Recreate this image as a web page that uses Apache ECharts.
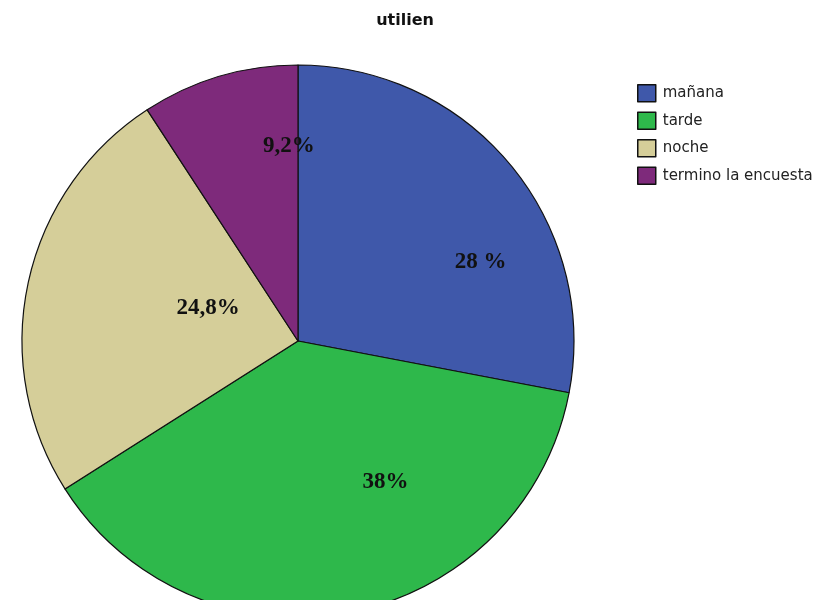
<!DOCTYPE html>
<html><head><meta charset="utf-8">
<script src="https://cdn.jsdelivr.net/npm/echarts@6/dist/echarts.min.js"></script>
<style>html,body{margin:0;padding:0;background:#fff}#c{width:829px;height:600px}</style>
</head><body><div id="c"></div>
<script>
const categories = ['mañana', 'tarde', 'noche', 'termino la encuesta'];
const values = [28, 38, 24.8, 9.2];
const labelTexts = ['28 %', '38%', '24,8%', '9,2%'];
const colors = ['#3F58AA', '#2EB84B', '#D5CE99', '#7E2A7B'];
const labelShift = [[74, 11], [61, 3], [48, -3], [31, -60]];

const chart = echarts.init(document.getElementById('c'), null, {renderer: 'canvas'});
chart.setOption({
  animation: false,
  backgroundColor: '#fff',
  title: {
    text: 'utilien', left: 400, top: 8, textAlign: 'center',
    textStyle: {fontFamily: 'DejaVu Sans', fontWeight: 'bold', fontSize: 16, color: '#111'}
  },
  legend: {
    orient: 'vertical', left: 632, top: 79, itemWidth: 18, itemHeight: 17, itemGap: 9,
    icon: 'rect', data: categories,
    itemStyle: {borderColor: '#111', borderWidth: 1.5},
    textStyle: {fontFamily: 'DejaVu Sans', fontSize: 15, color: '#222', padding: [0, 0, 0, 2]}
  },
  series: [{
    type: 'pie',
    center: [298, 341],
    radius: 276,
    startAngle: 90,
    clockwise: true,
    avoidLabelOverlap: false,
    data: categories.map((c, i) => ({
      name: c, value: values[i],
      itemStyle: {color: colors[i]},
      label: {formatter: labelTexts[i]}
    })),
    itemStyle: {borderColor: '#111', borderWidth: 1.2},
    label: {
      show: true, position: 'inside',
      fontFamily: 'Liberation Serif', fontWeight: 'bold', fontSize: 23, color: '#111'
    },
    labelLine: {show: false},
    labelLayout: function (p) {
      const s = labelShift[p.dataIndex];
      return {dx: s[0], dy: s[1]};
    },
    emphasis: {disabled: true}
  }]
});
</script></body></html>
